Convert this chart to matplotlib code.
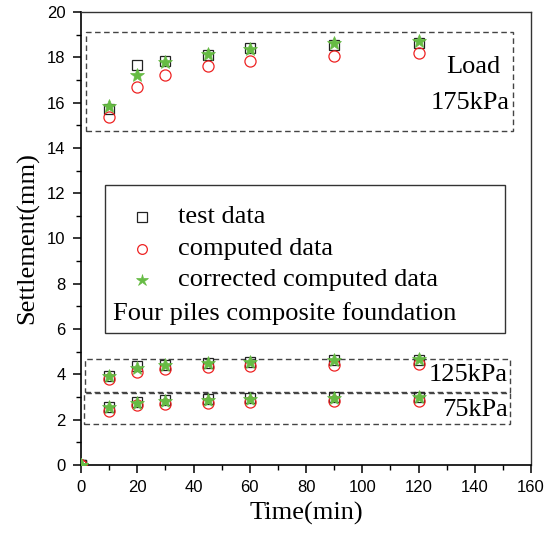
import matplotlib
matplotlib.use("Agg")
import matplotlib.pyplot as plt
from matplotlib.patches import Rectangle
from matplotlib.ticker import MultipleLocator

time = [0, 10, 20, 30, 45, 60, 90, 120]

test_175 = [0, 15.72, 17.65, 17.85, 18.09, 18.41, 18.56, 18.62]
comp_175 = [0, 15.35, 16.69, 17.22, 17.63, 17.85, 18.07, 18.19]
corr_175 = [0, 15.85, 17.22, 17.78, 18.15, 18.38, 18.62, 18.73]

test_125 = [0, 3.93, 4.37, 4.43, 4.52, 4.55, 4.64, 4.64]
comp_125 = [0, 3.78, 4.12, 4.24, 4.34, 4.37, 4.43, 4.45]
corr_125 = [0, 3.93, 4.27, 4.40, 4.52, 4.55, 4.64, 4.67]

test_75 = [0, 2.58, 2.80, 2.87, 2.91, 2.97, 3.02, 3.02]
comp_75 = [0, 2.40, 2.63, 2.69, 2.75, 2.80, 2.84, 2.84]
corr_75 = [0, 2.54, 2.75, 2.83, 2.87, 2.93, 2.97, 3.00]

legend_labels = ["test data", "computed data", "corrected computed data"]
note = "Four piles composite foundation"

serif = ["Liberation Serif", "DejaVu Serif"]
sans = ["Liberation Sans", "DejaVu Sans"]

fig = plt.figure(figsize=(5.46, 5.34), dpi=100)
ax = fig.add_axes([81/546, 69/534, 450/546, 453/534])

sq = dict(marker="s", ms=7, mfc="none", mec="#222222", mew=0.9, ls="none", zorder=3)
ci = dict(marker="o", ms=8, mfc="none", mec="#ee2222", mew=0.9, ls="none", zorder=3)
st = dict(marker="*", ms=10, mfc="#66bb44", mec="#66bb44", mew=0.5, ls="none", zorder=4)

for t, c, k in [(test_175, comp_175, corr_175), (test_125, comp_125, corr_125), (test_75, comp_75, corr_75)]:
    ax.plot(time, t, **sq)
    ax.plot(time, c, **ci)
    ax.plot(time, k, **st)

# dashed boxes
for (x0, y0, x1, y1) in [(1.8, 14.75, 153.5, 19.12), (1.5, 3.24, 152.4, 4.67), (1.1, 1.80, 152.5, 3.17)]:
    ax.add_patch(Rectangle((x0, y0), x1 - x0, y1 - y0, fill=False, ls=(0, (4, 2.5)),
                           ec="#444444", lw=1.0, zorder=2))

fs = 19
ax.text(149, 17.55, "Load", ha="right", va="center", fontsize=fs, family=serif)
ax.text(152.3, 16.0, "175kPa", ha="right", va="center", fontsize=fs, family=serif)
ax.text(151.8, 3.97, "125kPa", ha="right", va="center", fontsize=fs, family=serif)
ax.text(151.8, 2.43, "75kPa", ha="right", va="center", fontsize=fs, family=serif)

# legend box
ax.add_patch(Rectangle((0.053, 0.291), 0.889, 0.327, transform=ax.transAxes, fill=False,
                       ec="#333333", lw=1.0, zorder=2))
rows = [0.548, 0.477, 0.408]
lstyles = [dict(sq, ms=6.5), dict(ci, ms=7), dict(st, ms=9)]
for y, lab, style in zip(rows, legend_labels, lstyles):
    ax.plot([0.135], [y], transform=ax.transAxes, **style)
    ax.text(0.216, y, lab, transform=ax.transAxes, ha="left", va="center", fontsize=fs, family=serif)
ax.text(0.071, 0.335, note, transform=ax.transAxes, ha="left", va="center", fontsize=fs, family=serif)

ax.set_xlim(0, 160)
ax.set_ylim(0, 20)
ax.xaxis.set_major_locator(MultipleLocator(20))
ax.xaxis.set_minor_locator(MultipleLocator(10))
ax.yaxis.set_major_locator(MultipleLocator(2))
ax.yaxis.set_minor_locator(MultipleLocator(1))
for s in ["left", "bottom"]:
    ax.spines[s].set_linewidth(1.2)
for s in ["top", "right"]:
    ax.spines[s].set_linewidth(1.0)
    ax.spines[s].set_color("#333333")
ax.tick_params(which="major", direction="out", length=6, width=1.1, labelsize=12, pad=5)
ax.tick_params(which="minor", direction="out", length=3.5, width=1.0)
for lbl in ax.get_xticklabels() + ax.get_yticklabels():
    lbl.set_family(sans)

ax.set_xlabel("Time(min)", fontsize=19, family=serif, labelpad=5)
ax.set_ylabel("Settlement(mm)", fontsize=19, family=serif, labelpad=6)

fig.savefig("out.png", dpi=100)
